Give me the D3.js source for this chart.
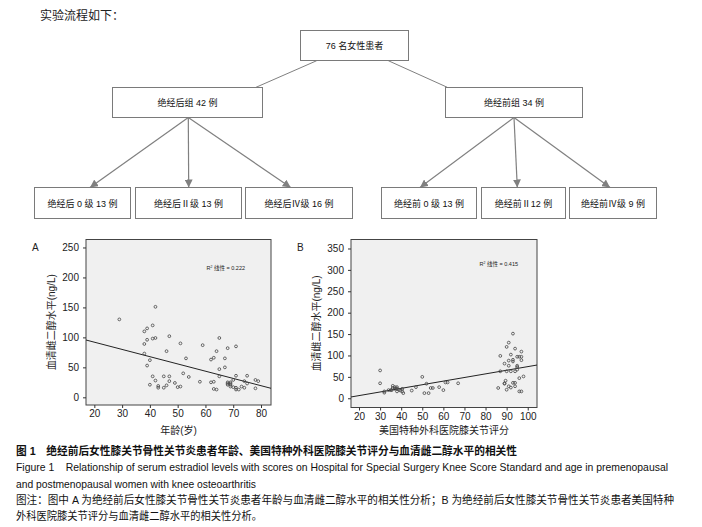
<!DOCTYPE html>
<html>
<head>
<meta charset="utf-8">
<script src="https://cdn.jsdelivr.net/npm/d3@7"></script>
<style>
body { margin: 0; background: #fff; }
text { font-family: "Liberation Sans", Arial, "Noto Sans CJK SC", sans-serif; }
.cjk { font-family: "Liberation Sans", "Noto Sans CJK SC", sans-serif; }
</style>
</head>
<body>
<script>
// flowchart labels
var titleText = "实验流程如下：";
var rootLabel = "76 名女性患者";
var groupLabels = ["绝经后组 42 例", "绝经前组 34 例"];
var gradeLabels = [
    ["绝经后 0 级 13 例", "绝经后Ⅱ级 13 例", "绝经后Ⅳ级 16 例"],
    ["绝经前 0 级 13 例", "绝经前Ⅱ12 例", "绝经前Ⅳ级 9 例"]
];

// panel A: age vs serum estradiol
var ageA = [29,42,41,39,38,41,42,39,38,38,40,39,
            47,51,46,53,59,65,64,62,63,68,71,67,65,67,65,
            41,42,40,43,43,45,45,46,47,47,49,50,51,52,54,58,62,63,63,64,
            68,69,68,69,69,70,68,69,
            70,71,71,72,71,73,74,74,75,75,78,79,78];
var e2A = [130,151,120,115,110,98,99,96,89,73,62,53,
           102,90,77,65,87,99,77,63,66,82,85,65,47,50,35,
           35,28,21,19,16,35,16,20,27,35,24,17,18,40,34,26,25,26,14,13,
           25,25,21,21,18,17,23,23,
           29,16,13,13,36,18,27,16,36,23,29,27,15];

// panel B: HSS knee score vs serum estradiol
var hssB = [30,30,32,32,34,35,35.5,36,37,36,37,38,38,38,39,39.6,40.5,40.5,41,
            45,47,50,51,52,53,54,55,58,60,61,62,67,
            86,87,87,89,89,89,89.5,90,91,90,90,91,91,91,92,92,92,93,93,93,93,
            94,94,94,94,95,95,95,95,96,97,97,97,96,96,97,98];
var e2B = [65,35,16,13,19,19,19,24,26,29,22,26,22,16,20,18,22,16,12,
           18,26,50,12,34,12,24,24,26,19,37,37,35,
           24,63,99,81,35,34,41,120,130,63,20,76,88,28,25,102,63,151,86,36,90,
           116,36,28,63,67,76,73,97,97,97,109,89,47,16,16,51];

// linear fits: [intercept, slope]
var fitA = [116.2, -1.21];
var fitB = [-10.7, 0.846];
var r2A = "0.222", r2B = "0.415";

var xTicksA = [20,30,40,50,60,70,80];
var yTicksA = [0,50,100,150,200,250];
var xTicksB = [20,30,40,50,60,70,80,90,100];
var yTicksB = [0,50,100,150,200,250,300,350];

var captionLines = [
    "图 1\u3000绝经前后女性膝关节骨性关节炎患者年龄、美国特种外科医院膝关节评分与血清雌二醇水平的相关性",
    "Figure 1\u00a0\u00a0\u00a0 Relationship of serum estradiol levels with scores on Hospital for Special Surgery Knee Score Standard and age in premenopausal",
    "and postmenopausal women with knee osteoarthritis",
    "图注：图中 A 为绝经前后女性膝关节骨性关节炎患者年龄与血清雌二醇水平的相关性分析；B 为绝经前后女性膝关节骨性关节炎患者美国特种",
    "外科医院膝关节评分与血清雌二醇水平的相关性分析。"
];

var w = 702, h = 527;
var svg = d3.select("body").append("svg")
    .attr("width", w)
    .attr("height", h);

svg.append("defs").append("marker")
    .attr("id", "arrow")
    .attr("markerUnits", "userSpaceOnUse")
    .attr("viewBox", "0 0 10 10")
    .attr("refX", 10).attr("refY", 5)
    .attr("markerWidth", 8).attr("markerHeight", 8)
    .attr("orient", "auto")
    .append("path")
    .attr("d", "M0,0L10,5L0,10z")
    .attr("fill", "#808080");

// ---------- flowchart ----------
svg.append("text")
    .attr("class", "cjk")
    .attr("x", 40).attr("y", 20)
    .attr("font-size", 12)
    .attr("fill", "#222")
    .text(titleText);

var boxes = [
    {x: 300.5, y: 30.5, w: 108, h: 30, label: rootLabel},
    {x: 112.5, y: 87.5, w: 150, h: 30, label: groupLabels[0]},
    {x: 445.5, y: 87.5, w: 137, h: 30, label: groupLabels[1]},
    {x: 34.5, y: 187.5, w: 96, h: 31, label: gradeLabels[0][0]},
    {x: 135.5, y: 187.5, w: 106, h: 31, label: gradeLabels[0][1]},
    {x: 245.5, y: 187.5, w: 107, h: 31, label: gradeLabels[0][2]},
    {x: 381.5, y: 187.5, w: 95, h: 31, label: gradeLabels[1][0]},
    {x: 481.5, y: 187.5, w: 84, h: 31, label: gradeLabels[1][1]},
    {x: 569.5, y: 187.5, w: 87, h: 31, label: gradeLabels[1][2]}
];

// root to groups, plain lines
var links = [[316.7, 60.7, 256, 87.3], [388.3, 60.7, 447.3, 87.3]];
svg.selectAll(".link")
    .data(links)
    .enter()
    .append("line")
    .attr("class", "link")
    .attr("x1", function(d){ return d[0]; })
    .attr("y1", function(d){ return d[1]; })
    .attr("x2", function(d){ return d[2]; })
    .attr("y2", function(d){ return d[3]; })
    .attr("stroke", "#808080")
    .attr("stroke-width", 1);

// groups to grades, arrows
var arrows = [[188.3, 117.5, 90, 187.5], [188.3, 117.5, 188.7, 187.5], [188.3, 117.5, 290.7, 187.5],
              [514, 117.5, 420, 187.5], [514, 117.5, 517.3, 187.5], [514, 117.5, 610, 187.5]];
svg.selectAll(".arrow")
    .data(arrows)
    .enter()
    .append("line")
    .attr("class", "arrow")
    .attr("x1", function(d){ return d[0]; })
    .attr("y1", function(d){ return d[1]; })
    .attr("x2", function(d){ return d[2]; })
    .attr("y2", function(d){ return d[3]; })
    .attr("stroke", "#808080")
    .attr("stroke-width", 1.2)
    .attr("marker-end", "url(#arrow)");

var box = svg.selectAll(".box")
    .data(boxes)
    .enter()
    .append("g")
    .attr("class", "box");
box.append("rect")
    .attr("x", function(d){ return d.x; })
    .attr("y", function(d){ return d.y; })
    .attr("width", function(d){ return d.w; })
    .attr("height", function(d){ return d.h; })
    .attr("fill", "#fff")
    .attr("stroke", "#7a7a7a")
    .attr("stroke-width", 1);
box.append("text")
    .attr("x", function(d){ return d.x + d.w / 2; })
    .attr("y", function(d){ return d.y + d.h / 2 + 3.5; })
    .attr("text-anchor", "middle")
    .attr("font-size", 9)
    .attr("fill", "#111")
    .text(function(d){ return d.label; });

// ---------- scatter panels ----------
function drawPanel(p){
    var x = d3.scaleLinear().domain(p.xdom).range([p.left, p.right]);
    var y = d3.scaleLinear().domain(p.ydom).range([p.bottom, p.top]);
    var g = svg.append("g");

    g.append("rect")
        .attr("x", p.left).attr("y", p.top)
        .attr("width", p.right - p.left)
        .attr("height", p.bottom - p.top)
        .attr("fill", "#f0f0f0")
        .attr("stroke", "#444")
        .attr("stroke-width", 1);

    var yAxis = g.append("g")
        .attr("transform", "translate(" + p.left + ",0)")
        .call(d3.axisLeft(y).tickValues(p.yticks).tickSize(3).tickPadding(4));
    var xAxis = g.append("g")
        .attr("transform", "translate(0," + p.bottom + ")")
        .call(d3.axisBottom(x).tickValues(p.xticks).tickSize(3).tickPadding(2));
    [xAxis, yAxis].forEach(function(a){
        a.select(".domain").remove();
        a.selectAll("line").attr("stroke", "#333");
        a.selectAll("text").attr("font-size", 10).attr("fill", "#222")
            .attr("font-family", "'Liberation Sans', Arial, sans-serif");
    });

    // fitted line
    var x0 = p.xdom[0], x1 = p.xdom[1];
    g.append("line")
        .attr("x1", x(x0)).attr("y1", y(p.fit[0] + p.fit[1] * x0))
        .attr("x2", x(x1)).attr("y2", y(p.fit[0] + p.fit[1] * x1))
        .attr("stroke", "#222")
        .attr("stroke-width", 1);

    g.selectAll(".dot")
        .data(p.xs)
        .enter()
        .append("circle")
        .attr("class", "dot")
        .attr("cx", function(d){ return x(d); })
        .attr("cy", function(d, i){ return y(p.ys[i]); })
        .attr("r", 1.4)
        .attr("fill", "none")
        .attr("stroke", "#444")
        .attr("stroke-width", 0.8);

    g.append("text")
        .attr("x", p.r2x).attr("y", p.r2y)
        .attr("class", "cjk")
        .attr("font-size", 5.5)
        .attr("fill", "#222")
        .html("R<tspan dy='-2' font-size='3.5'>2</tspan><tspan dy='2'> 线性 = " + p.r2 + "</tspan>");

    g.append("text")
        .attr("x", p.left - 54).attr("y", p.top + 11)
        .attr("font-size", 10)
        .attr("fill", "#222")
        .text(p.name);

    g.append("text")
        .attr("class", "cjk")
        .attr("transform", "translate(" + (p.left - 35) + "," + ((p.top + p.bottom) / 2) + ") rotate(-90)")
        .attr("text-anchor", "middle")
        .attr("dy", "0.35em")
        .attr("font-size", 10)
        .attr("fill", "#222")
        .text("血清雌二醇水平(ng/L)");

    g.append("text")
        .attr("class", "cjk")
        .attr("x", (p.left + p.right) / 2)
        .attr("y", 434)
        .attr("text-anchor", "middle")
        .attr("font-size", 10)
        .attr("fill", "#222")
        .text(p.xlabel);
}

drawPanel({name: "A", xs: ageA, ys: e2A, fit: fitA, r2: r2A,
    xdom: [17, 83.6], ydom: [-12.8, 263.3],
    left: 86, right: 271, top: 239.5, bottom: 405,
    xticks: xTicksA, yticks: yTicksA, r2x: 206.5, r2y: 270,
    xlabel: "年龄(岁)"});

drawPanel({name: "B", xs: hssB, ys: e2B, fit: fitB, r2: r2B,
    xdom: [16.2, 104.4], ydom: [-21.6, 371],
    left: 351, right: 537, top: 239.5, bottom: 407.5,
    xticks: xTicksB, yticks: yTicksB, r2x: 479.5, r2y: 266,
    xlabel: "美国特种外科医院膝关节评分"});

// ---------- caption ----------
var capY = [451, 467, 484, 500, 516];
var capLen = [501, 652, 240, 658, 246];
var capSize = [11, 10.3, 10.3, 11, 11];
svg.selectAll(".cap")
    .data(captionLines)
    .enter()
    .append("text")
    .attr("class", "cap cjk")
    .attr("x", 16)
    .attr("y", function(d, i){ return capY[i] + 4; })
    .attr("font-size", function(d, i){ return capSize[i]; })
    .attr("font-weight", function(d, i){ return i === 0 ? 700 : 400; })
    .attr("fill", "#111")
    .attr("textLength", function(d, i){ return capLen[i]; })
    .attr("lengthAdjust", "spacingAndGlyphs")
    .text(function(d){ return d; });
</script>
</body>
</html>
